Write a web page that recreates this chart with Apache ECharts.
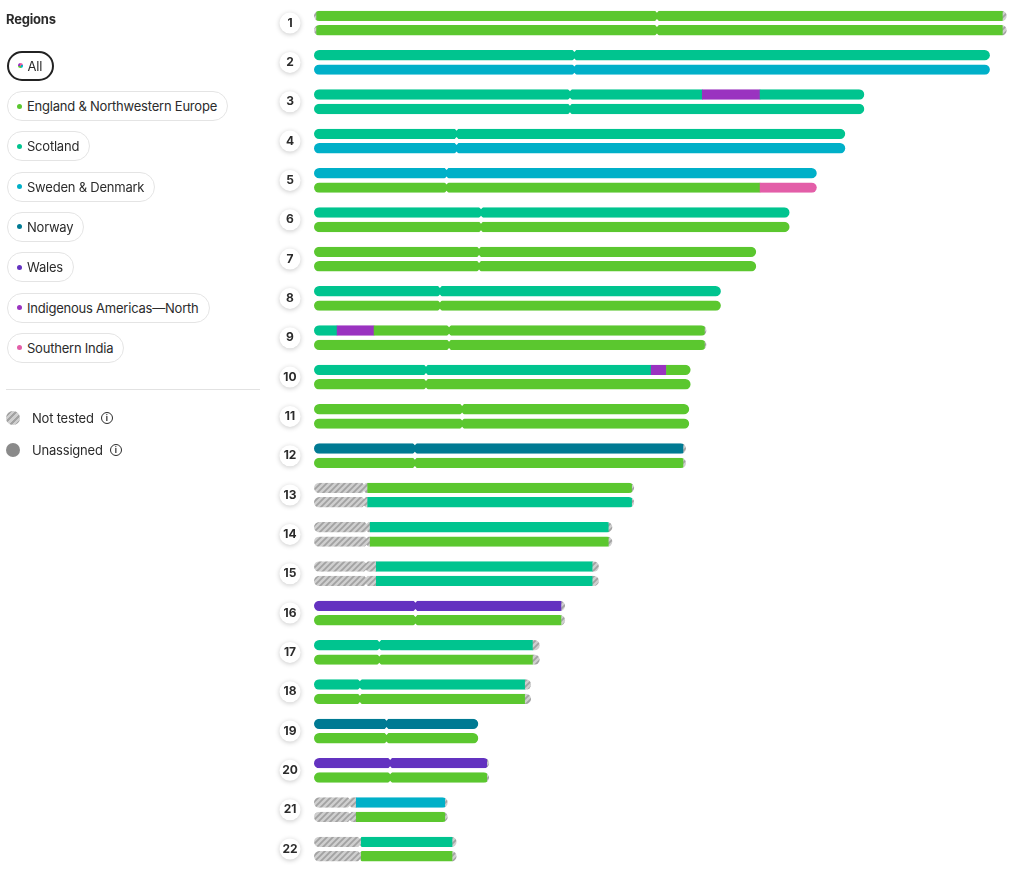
<!DOCTYPE html>
<html>
<head>
<meta charset="utf-8">
<title>Chromosome painter</title>
<script src="https://cdn.jsdelivr.net/npm/echarts@6.0.0/dist/echarts.min.js"></script>
<style>
html, body { margin: 0; padding: 0; background: #fff; }
#chart { position: absolute; left: 0; top: 0; width: 1024px; height: 871px; }
#side { position: absolute; left: 0; top: 0; width: 260px; height: 470px; font-family: Inter, "Noto Sans", sans-serif; color: #2b2b2b; }
.title { position: absolute; left: 6px; top: 11px; font-size: 13px; font-weight: 700; letter-spacing: -0.2px; }
.pill { position: absolute; left: 7px; height: 30px; box-sizing: border-box; border: 1.5px solid #e4e4e4; border-radius: 15px; padding: 0 10px 0 9px; display: flex; align-items: center; font-size: 13px; letter-spacing: -0.22px; white-space: nowrap; background: #fff; }
.pill.active { border: 2px solid #222; padding-left: 8.5px; }
.pill .dot { width: 5px; height: 5px; border-radius: 50%; margin-right: 5px; flex: none; }
.divider { position: absolute; left: 6px; top: 389px; width: 254px; height: 1px; background: #e2e2e2; }
.key { position: absolute; left: 6px; display: flex; align-items: center; font-size: 13px; letter-spacing: -0.2px; }
.key .sw { width: 14px; height: 14px; border-radius: 50%; margin-right: 12px; flex: none; }
.info { display: inline-flex; width: 12px; height: 12px; box-sizing: border-box; border: 1.4px solid #2b2b2b; border-radius: 50%; margin-left: 7px; font-size: 8px; font-weight: 700; align-items: center; justify-content: center; line-height: 1; letter-spacing: 0; }
</style>
</head>
<body>
<div id="chart"></div>
<div id="side"></div>
<script>
// 染色体 1-22
var chromosomes = ['1','2','3','4','5','6','7','8','9','10','11','12','13','14','15','16','17','18','19','20','21','22'];
// 长度 (Mb)
var chrLengths = [249.25, 243.2, 198.0, 191.15, 180.9, 171.1, 159.1, 146.4, 141.2, 135.5, 135.0, 133.85, 115.2, 107.35, 102.5, 90.35, 81.2, 78.1, 59.1, 63.0, 48.1, 51.3];
// 着丝粒位置 (Mb)
var centromeres = [123.4, 93.7, 92.1, 51.3, 47.7, 60.1, 59.4, 45.3, 48.6, 40.3, 53.3, 36.3, 18.0, 18.9, 18.7, 36.5, 23.5, 16.5, 26.1, 27.4, 12.9, 16.5];

var regionKeys = ['ENG', 'SCO', 'SWE', 'NOR', 'WAL', 'IAN', 'SIN'];
var regionNames = ['England & Northwestern Europe', 'Scotland', 'Sweden & Denmark', 'Norway', 'Wales', 'Indigenous Americas\u2014North', 'Southern India'];

// 第一条 (上)
var hapA = [
    [['NT',0,0.8],['ENG',0.8,247.8],['NT',247.8,249.25]],
    [['SCO',0,243.2]],
    [['SCO',0,139.6],['IAN',139.6,160.4],['SCO',160.4,198.0]],
    [['SCO',0,191.15]],
    [['SWE',0,180.9]],
    [['SCO',0,171.1]],
    [['ENG',0,159.1]],
    [['SCO',0,146.4]],
    [['SCO',0,8.2],['IAN',8.2,21.5],['ENG',21.5,140.6],['NT',140.6,141.2]],
    [['SCO',0,121.2],['IAN',121.2,126.7],['ENG',126.7,135.5]],
    [['ENG',0,135.0]],
    [['NOR',0,132.9],['NT',132.9,133.85]],
    [['NT',0,19.2],['ENG',19.2,114.4],['NT',114.4,115.2]],
    [['NT',0,20.1],['SCO',20.1,106.0],['NT',106.0,107.35]],
    [['NT',0,22.3],['SCO',22.3,100.2],['NT',100.2,102.5]],
    [['WAL',0,89.0],['NT',89.0,90.35]],
    [['SCO',0,78.7],['NT',78.7,81.2]],
    [['SCO',0,75.9],['NT',75.9,78.1]],
    [['NOR',0,59.1]],
    [['WAL',0,62.3],['NT',62.3,63.0]],
    [['NT',0,15.1],['SWE',15.1,47.2],['NT',47.2,48.1]],
    [['NT',0,16.9],['SCO',16.9,49.8],['NT',49.8,51.3]]
];
// 第二条 (下)
var hapB = [
    [['NT',0,0.8],['ENG',0.8,247.8],['NT',247.8,249.25]],
    [['SWE',0,243.2]],
    [['SCO',0,198.0]],
    [['SWE',0,191.15]],
    [['ENG',0,160.4],['SIN',160.4,180.9]],
    [['ENG',0,171.1]],
    [['ENG',0,159.1]],
    [['ENG',0,146.4]],
    [['ENG',0,140.6],['NT',140.6,141.2]],
    [['ENG',0,135.5]],
    [['ENG',0,135.0]],
    [['ENG',0,132.9],['NT',132.9,133.85]],
    [['NT',0,19.2],['SCO',19.2,114.4],['NT',114.4,115.2]],
    [['NT',0,20.1],['ENG',20.1,106.0],['NT',106.0,107.35]],
    [['NT',0,22.3],['SCO',22.3,100.2],['NT',100.2,102.5]],
    [['ENG',0,89.0],['NT',89.0,90.35]],
    [['ENG',0,78.7],['NT',78.7,81.2]],
    [['ENG',0,75.9],['NT',75.9,78.1]],
    [['ENG',0,59.1]],
    [['ENG',0,62.3],['NT',62.3,63.0]],
    [['NT',0,15.1],['ENG',15.1,47.2],['NT',47.2,48.1]],
    [['NT',0,16.9],['ENG',16.9,49.8],['NT',49.8,51.3]]
];

// 颜色
var regionColors = {
    ENG: '#5bc72f',
    SCO: '#00c48f',
    SWE: '#00b0c8',
    NOR: '#007a93',
    WAL: '#6332c0',
    IAN: '#9a33c0',
    SIN: '#e35ea8'
};

var barH = 10.4;   //条高
var barOff = 7.2;  //上下偏移
var hatch = makeHatch();

$side();

var segData = [];
function pushHap(list, hap) {
    for (var c = 0; c < list.length; c++) {
        for (var k = 0; k < list[c].length; k++) {
            var seg = list[c][k];
            segData.push([seg[1], c, hap, seg[2], regionKeys.indexOf(seg[0])]);
        }
    }
}
pushHap(hapA, 0);
pushHap(hapB, 1);

var cenData = [];
for (var i = 0; i < centromeres.length; i++) {
    cenData.push([centromeres[i], i]);
}

function makeHatch() {
    var s = 6;
    var cv = document.createElement('canvas');
    cv.width = s; cv.height = s;
    var ctx = cv.getContext('2d');
    ctx.fillStyle = '#cfcfcf';
    ctx.fillRect(0, 0, s, s);
    ctx.strokeStyle = '#a2a2a2';
    ctx.lineWidth = 1.8;
    ctx.beginPath();
    ctx.moveTo(0, s); ctx.lineTo(s, 0);
    ctx.moveTo(-s / 2, s / 2); ctx.lineTo(s / 2, -s / 2);
    ctx.moveTo(s / 2, s * 1.5); ctx.lineTo(s * 1.5, s / 2);
    ctx.stroke();
    return cv;
}

function renderSegment(params, api) {
    var c = api.value(1), hap = api.value(2), r = api.value(4);
    var p0 = api.coord([api.value(0), c]);
    var p1 = api.coord([api.value(3), c]);
    var cs = api.coord([0, c]);
    var ce = api.coord([chrLengths[c], c]);
    var y = p0[1] + (hap === 0 ? -barOff : barOff) - barH / 2;
    var fill = r < 0 ? {image: hatch, repeat: 'repeat'} : regionColors[regionKeys[r]];
    return {
        type: 'rect',
        shape: {x: p0[0], y: y, width: p1[0] - p0[0] + 0.5, height: barH},
        style: {fill: fill},
        clipPath: {
            type: 'rect',
            shape: {x: cs[0], y: y, width: ce[0] - cs[0], height: barH, r: barH / 2}
        }
    };
}

function renderNotch(params, api) {
    var p = api.coord([api.value(0), api.value(1)]);
    var nw = 2.3, nd = 2.0;
    var children = [];
    [-barOff, barOff].forEach(function (off) {
        var top = p[1] + off - barH / 2;
        var bot = top + barH;
        children.push({type: 'polygon', shape: {points: [[p[0] - nw, top - 0.5], [p[0] + nw, top - 0.5], [p[0], top + nd]]}, style: {fill: '#fff'}});
        children.push({type: 'polygon', shape: {points: [[p[0] - nw, bot + 0.5], [p[0] + nw, bot + 0.5], [p[0], bot - nd]]}, style: {fill: '#fff'}});
    });
    return {type: 'group', children: children};
}

var myChart = echarts.init(document.getElementById('chart'));
var option = {
    animation: false,
    grid: {left: 314, right: 17.3, top: 3.4, bottom: 2.3},
    xAxis: {type: 'value', min: 0, max: 249.25, show: false},
    yAxis: {
        type: 'category',
        data: chromosomes,
        inverse: true,
        axisLine: {show: false},
        axisTick: {show: false},
        splitLine: {show: false},
        axisLabel: {
            margin: 24,
            align: 'center',
            verticalAlign: 'middle',
            width: 21,
            height: 21,
            lineHeight: 21,
            backgroundColor: '#fff',
            borderRadius: 10.5,
            shadowBlur: 5,
            shadowColor: 'rgba(0,0,0,0.22)',
            shadowOffsetY: 1,
            fontFamily: 'Inter',
            fontWeight: 'bold',
            fontSize: 12,
            color: '#2b2b2b'
        }
    },
    series: [
        {
            type: 'custom',
            name: 'segments',
            renderItem: renderSegment,
            encode: {x: [0, 3], y: 1},
            data: segData
        },
        {
            type: 'custom',
            name: 'centromere',
            renderItem: renderNotch,
            encode: {x: 0, y: 1},
            data: cenData,
            z: 3
        }
    ]
};
myChart.setOption(option);

//左侧图例
function $side() {
    var side = document.getElementById('side');
    var str = "<div class='title'>Regions</div>";
    var allDot = "background:conic-gradient(#e35ea8 0 25%, #00b0c8 25% 50%, #5bc72f 50% 75%, #9a33c0 75% 100%);";
    str += "<div class='pill active' style='top:50.5px'><span class='dot' style='" + allDot + "'></span>All</div>";
    for (var i = 0; i < regionNames.length; i++) {
        var top = 50.7 + 40.3 * (i + 1);
        str += "<div class='pill' style='top:" + top + "px'><span class='dot' style='background:" + regionColors[regionKeys[i]] + "'></span>" + regionNames[i] + "</div>";
    }
    str += "<div class='divider'></div>";
    str += "<div class='key' style='top:410px'><span class='sw' style='background:repeating-linear-gradient(135deg,#cfcfcf 0 2.5px,#a2a2a2 2.5px 4.5px)'></span>Not tested<span class='info'>i</span></div>";
    str += "<div class='key' style='top:442px'><span class='sw' style='background:#8a8a8a'></span>Unassigned<span class='info'>i</span></div>";
    side.innerHTML = str;
}
</script>
</body>
</html>
